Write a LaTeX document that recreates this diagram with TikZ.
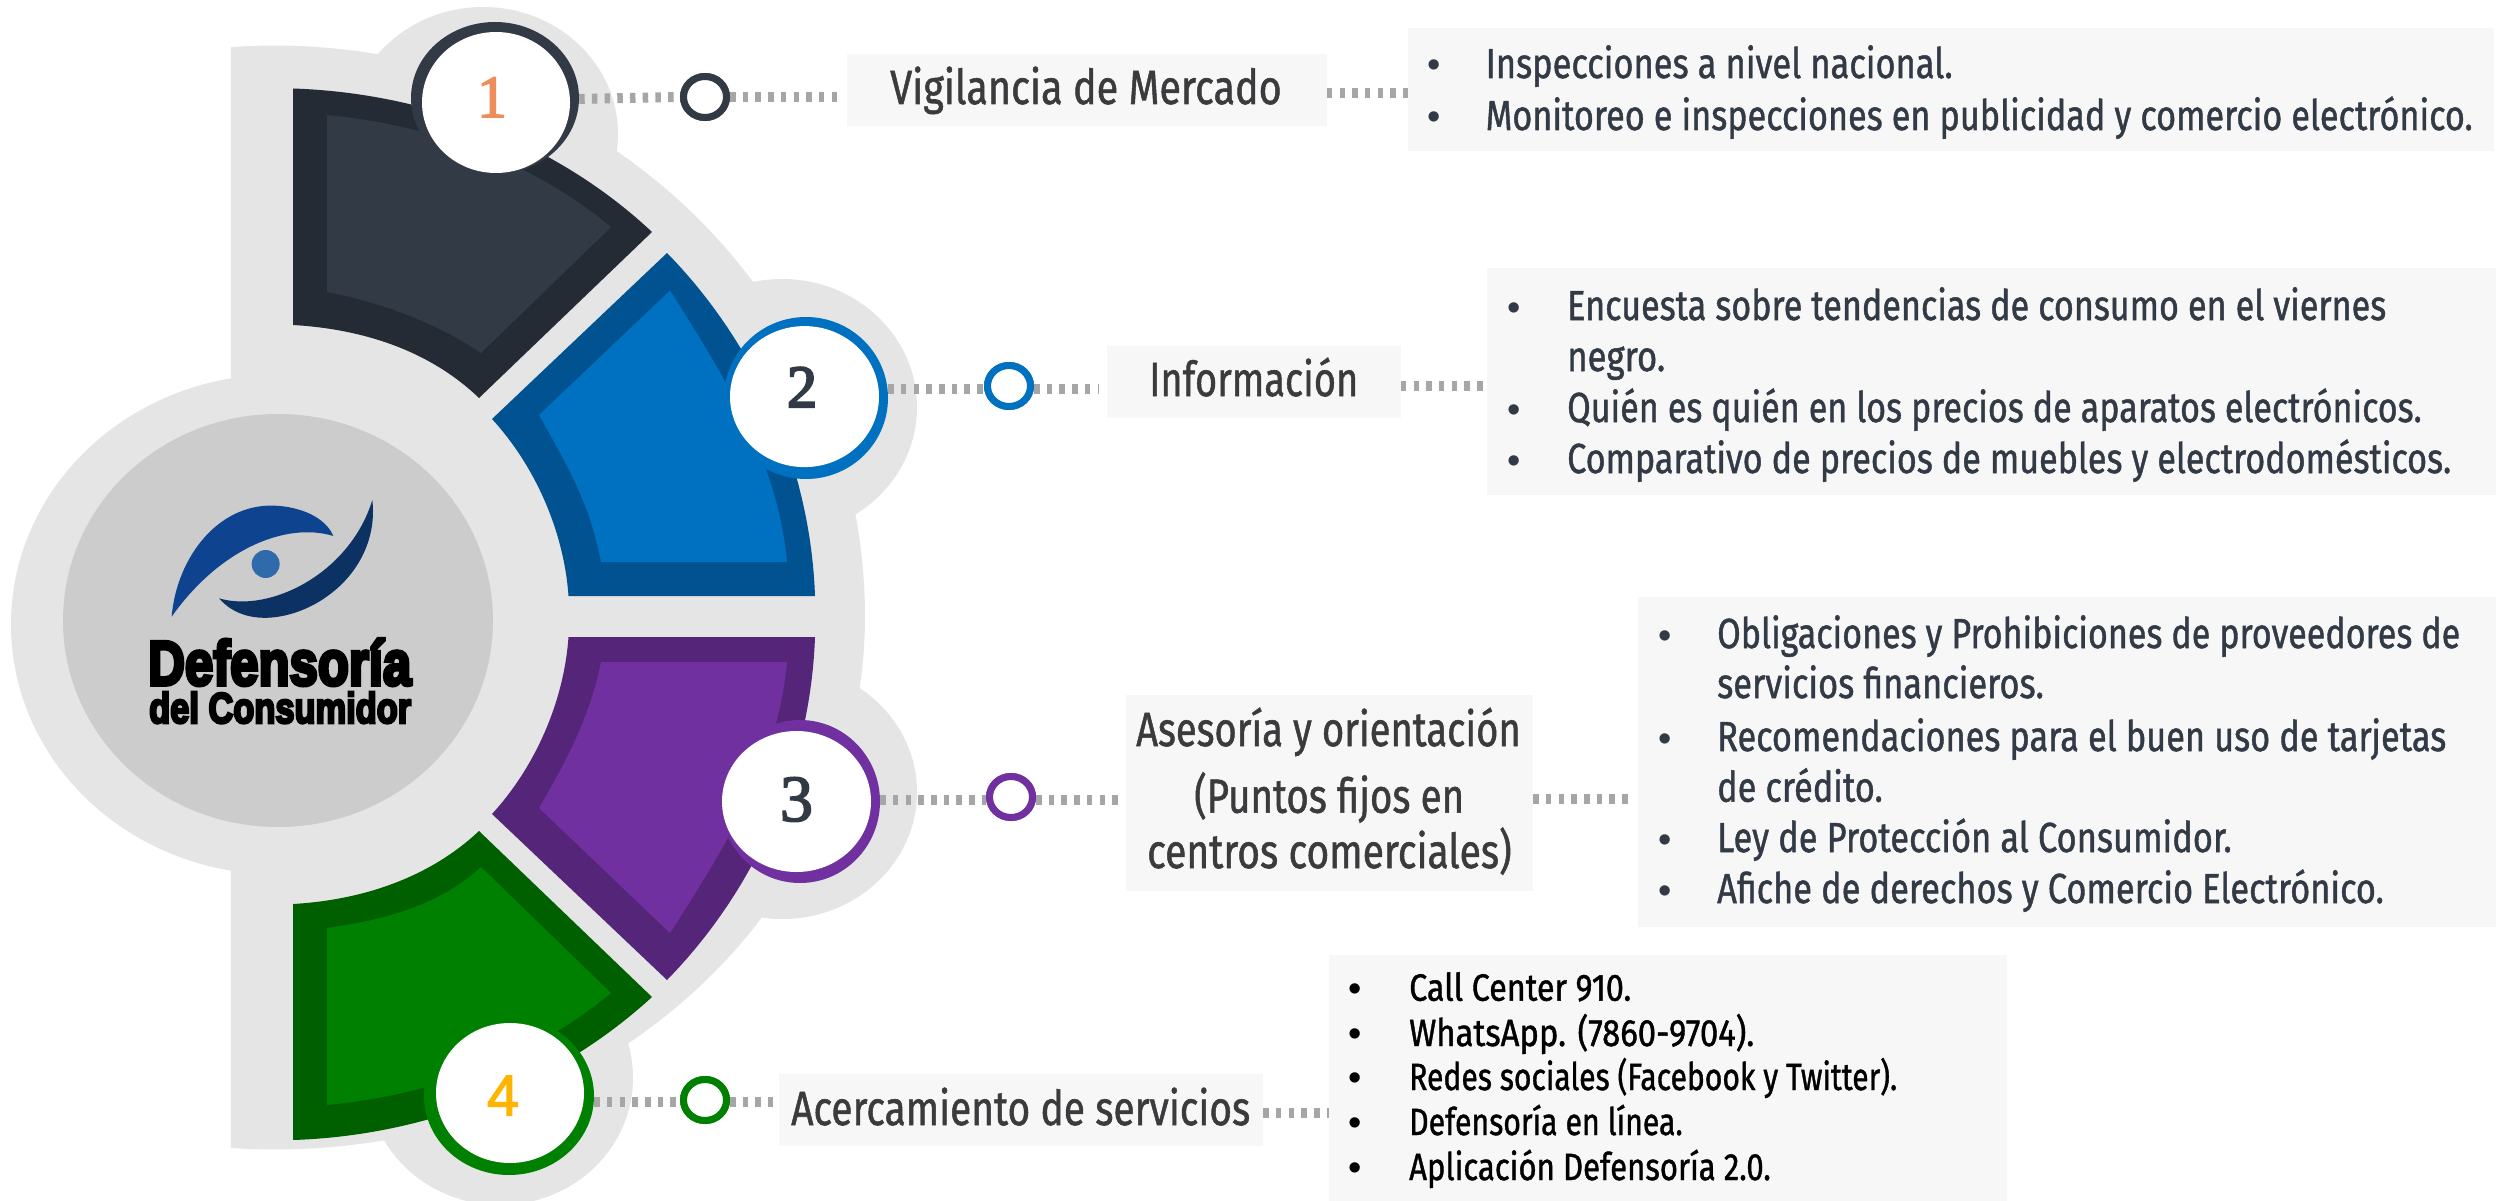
\documentclass[tikz,border=0pt]{standalone}
\usepackage{fontspec}
\usepackage{graphicx}
\usetikzlibrary{shapes.geometric}
\setmainfont{Fira Sans}
\newfontfamily\bodyfont{Fira Sans}[FakeBold=1.2]
\newfontfamily\logofont{Liberation Sans}[BoldFeatures={FakeBold=6}]
\newfontfamily\bulfont{Liberation Sans}
\newfontfamily\fourfont{Liberation Sans}[FakeBold=2]
\newfontfamily\numfont{Liberation Serif}[FakeBold=2.5]
\newfontfamily\numfontb{Liberation Serif}[FakeBold=3.5]
\definecolor{bgg}{HTML}{E5E5E5}
\definecolor{ing}{HTML}{CCCCCC}
\definecolor{boxg}{HTML}{F7F7F7}
\definecolor{dotg}{HTML}{A6A6A6}
\definecolor{inktxt}{HTML}{323A46}
\definecolor{headtxt}{HTML}{3B3B3D}
\definecolor{da}{HTML}{242B35}\definecolor{la}{HTML}{323A46}
\definecolor{db}{HTML}{005390}\definecolor{lb}{HTML}{0070C0}
\definecolor{dc}{HTML}{542578}\definecolor{lc}{HTML}{7030A0}
\definecolor{dd}{HTML}{006000}\definecolor{ld}{HTML}{008000}
\tikzset{
 ringnode/.style={ellipse,inner sep=0pt,text=white},
 whitenode/.style={ellipse,fill=white,inner sep=0pt},
 smallnode/.style={ellipse,fill=white,inner sep=0pt,line width=7pt,minimum width=43pt,minimum height=41pt},
 dotline/.style={draw=dotg,line width=10pt,dash pattern=on 5.5pt off 7.2pt},
 boxnode/.style={rectangle,fill=boxg,inner sep=0pt},
 linetext/.style={anchor=base west,inner sep=0pt,text=inktxt,font=\bodyfont\fontsize{42}{48}\selectfont},
 headtext/.style={anchor=base west,inner sep=0pt,text=headtxt,font=\bodyfont\fontsize{48}{54}\selectfont},
 smalltext/.style={anchor=base west,inner sep=0pt,text=black,font=\bodyfont\fontsize{38}{44}\selectfont},
 bulletnode/.style={anchor=base,inner sep=0pt,text=inktxt,font=\bulfont\fontsize{38}{44}\selectfont},
 numnode/.style={anchor=base,inner sep=0pt},
}
\newcommand\bul[3]{\node[bulletnode] (#1) at (#2,#3) {•};}
\newcommand\tline[6][linetext]{\node[#1] (#2) at (#3,#4) {\resizebox{#5pt}{\height}{#6}};}
\begin{document}
\begin{tikzpicture}[x=1pt,y=-1pt]
\clip (0,0) rectangle (2503,1201);
\fill[white] (0,0) rectangle (2503,1201);
% grey backdrop
\fill[bgg] plot[domain=94.3:0,samples=60] ({275+590*cos(\x)},{616.5-571*sin(\x)})
  -- plot[domain=0:-94.3,samples=60] ({275+590*cos(\x)},{616.5+533*sin(-\x)}) -- cycle;
\fill[bgg] (278,624.5) ellipse [x radius=267pt,y radius=250pt];
\fill[bgg] (483,134) ellipse [x radius=135pt,y radius=127pt];
\fill[bgg] (782,407) ellipse [x radius=135pt,y radius=128pt];
\fill[bgg] (782,792) ellipse [x radius=135pt,y radius=127pt];
\fill[bgg] (500,1078) ellipse [x radius=133pt,y radius=127pt];
\fill[ing] (278,620.5) ellipse [x radius=215pt,y radius=206.5pt];
% sectors
\fill[da] (293,88.5) .. controls (426,93) and (556,142) .. (652,232) -- (479,398) .. controls (429,350) and (362,329) .. (293,325) -- cycle;
\fill[la] (327,115) .. controls (430,125) and (530,160) .. (611,227) -- (481,353) .. controls (440,325) and (385,303) .. (327,292) -- cycle;
\fill[db] (667,253) .. controls (757,345) and (810.5,469) .. (815,596) -- (568.5,596) .. controls (564,532) and (535.6,466.5) .. (492,419) -- cycle;
\fill[lb] (670,290.5) .. controls (730,385) and (778,465) .. (787,562) -- (601,562) .. controls (590,505) and (570,470) .. (539,415) -- cycle;
\fill[dc] (815,637) .. controls (810.5,764) and (757,888) .. (667,980) -- (492,814) .. controls (535.6,766.5) and (564,701) .. (568.5,637) -- cycle;
\fill[lc] (787,662) .. controls (778,760) and (730,840) .. (670,933) -- (539,808) .. controls (570,755) and (590,715) .. (601,662) -- cycle;
\fill[dd] (293,1140) .. controls (426,1135.7) and (556,1085) .. (652,997) -- (479,831) .. controls (429,878) and (362,900) .. (293,904) -- cycle;
\fill[ld] (327,1105) .. controls (430,1095) and (530,1060) .. (611,993) -- (481,867) .. controls (440,905) and (385,920) .. (327,928) -- cycle;
% logo
\begin{scope}[shift={(120pt,-480pt)},x=0.33333pt,y=-0.33333pt]
\fill[fill={rgb,255:red,14;green,67;blue,144}] (155,410) .. controls (170,230) and (300,60) .. (480,78) .. controls (560,86) and (620,120) .. (640,168) .. controls (500,125) and (300,205) .. (155,410) -- cycle;
\fill[fill={rgb,255:red,11;green,50;blue,99}] (757,60) .. controls (770,170) and (720,280) .. (620,350) .. controls (530,415) and (380,450) .. (297,355) .. controls (450,400) and (690,280) .. (757,60) -- cycle;
\fill[fill={rgb,255:red,47;green,107;blue,170}] (437,252) ellipse [x radius=14pt,y radius=14pt];
\end{scope}
\node[anchor=base west,inner sep=0pt,text=black,font=\logofont\bfseries\fontsize{63}{70}\selectfont] (logoa) at (148,685) {\resizebox{263pt}{\height}{Defensoría}};
\node[anchor=base west,inner sep=0pt,text=black,font=\logofont\bfseries\fontsize{43}{50}\selectfont] (logob) at (149,723) {\resizebox{262pt}{\height}{del Consumidor}};
% rings and discs
\node[ringnode,fill=la,minimum width=168pt,minimum height=152pt] (n1) at (495,98) {};
\node[ringnode,fill=lb,minimum width=164pt,minimum height=162pt] (n2) at (806,398) {};
\node[ringnode,fill=lc,minimum width=160pt,minimum height=163pt] (n3) at (800,801.5) {};
\node[ringnode,fill=ld,minimum width=170pt,minimum height=158pt] (n4) at (509,1096) {};
\node[whitenode,minimum width=148pt,minimum height=141pt] (w1) at (496,102.5) {};
\node[whitenode,minimum width=149pt,minimum height=141pt] (w2) at (804.5,396.6) {};
\node[whitenode,minimum width=149pt,minimum height=141pt] (w3) at (796.5,801.5) {};
\node[whitenode,minimum width=148pt,minimum height=140pt] (w4) at (510,1093) {};
\node[numnode,text={rgb,255:red,240;green,140;blue,90},font=\numfont\fontsize{60}{66}\selectfont] (num1) at (492,117) {1};
\node[numnode,text=la,font=\numfontb\fontsize{60}{66}\selectfont] (num2) at (802,407) {2};
\node[numnode,text=la,font=\numfont\fontsize{66}{72}\selectfont] (num3) at (796.5,821) {3};
\node[numnode,text={rgb,255:red,255;green,180;blue,0},font=\fourfont\fontsize{58}{64}\selectfont] (num4) at (503,1115.6) {4};
% small circles
\node[smallnode,draw=la] (c1) at (705,97) {};
\node[smallnode,draw=lb] (c2) at (1009,386) {};
\node[smallnode,draw=lc] (c3) at (1011,797) {};
\node[smallnode,draw=ld] (c4) at (705,1100) {};
% boxes
\node[boxnode,minimum width=479.6pt,minimum height=71.7pt] (l1) at (1086.8,89.85) {};
\node[boxnode,minimum width=1086pt,minimum height=122.7pt] (t1) at (1951,89.35) {};
\node[boxnode,minimum width=293.6pt,minimum height=71.7pt] (l2) at (1253.8,381.85) {};
\node[boxnode,minimum width=1008.6pt,minimum height=227pt] (t2) at (1991.7,381.5) {};
\node[boxnode,minimum width=407pt,minimum height=196pt] (l3) at (1329.5,793) {};
\node[boxnode,minimum width=858pt,minimum height=330pt] (t3) at (2067,761.7) {};
\node[boxnode,minimum width=484pt,minimum height=71.7pt] (l4) at (1021,1109.85) {};
\node[boxnode,minimum width=678pt,minimum height=246pt] (t4) at (1668,1078) {};
% connectors
\draw[dotline] (n1.east) ++(0pt,-1pt) -- (c1.west);
\draw[dotline] (c1.east) -- ([xshift=-8pt]c1.east -| l1.west);
\draw[dotline] ([yshift=-3pt]l1.east) -- ([yshift=-3pt]l1.east -| t1.west);
\draw[dotline] ([yshift=-3pt]c2.west -| n2.east) -- ([yshift=-3pt]c2.west);
\draw[dotline] ([yshift=-3pt]c2.east) -- ([yshift=-3pt,xshift=-8pt]c2.east -| l2.west);
\draw[dotline] ([yshift=-4pt]l2.east) -- ([yshift=-4pt]l2.east -| t2.west);
\draw[dotline] ([yshift=-3pt]c3.west -| n3.east) -- ([yshift=-3pt]c3.west);
\draw[dotline] ([yshift=-3pt]c3.east) -- ([yshift=-3pt,xshift=-8pt]c3.east -| l3.west);
\draw[dotline] ([yshift=-6pt]l3.east) -- ([yshift=-6pt,xshift=-8pt]l3.east -| t3.west);
\draw[dotline] ([yshift=-2pt]c4.west -| n4.east) -- ([yshift=-2pt]c4.west);
\draw[dotline] ([yshift=-2pt]c4.east) -- ([yshift=-2pt,xshift=-6pt]c4.east -| l4.west);
\draw[dotline] ([yshift=-3pt]l4.east) -- ([yshift=-3pt]l4.east -| t4.west);
% redraw the small circles above their connectors
\node[smallnode,draw=la] at (c1) {};
\node[smallnode,draw=lb] at (c2) {};
\node[smallnode,draw=lc] at (c3) {};
\node[smallnode,draw=ld] at (c4) {};
% labels
\tline[headtext]{h1}{890}{104}{391.5}{Vigilancia de Mercado}
\tline[headtext]{h2}{1149}{396}{209}{Información}
\tline[headtext]{h3a}{1136}{746}{384.5}{Asesoría y orientación}
\tline[headtext]{h3b}{1194}{812.7}{270}{(Puntos fijos en}
\tline[headtext]{h3c}{1147}{868}{364.5}{centros comerciales)}
\tline[headtext]{h4}{791}{1125}{459}{Acercamiento de servicios}
% list 1
\bul{b11}{1434}{78}\tline{a11}{1485.5}{78}{467}{Inspecciones a nivel nacional.}
\bul{b12}{1434}{130}\tline{a12}{1485.5}{130}{987}{Monitoreo e inspecciones en publicidad y comercio electrónico.}
% list 2
\bul{b21}{1514}{320}\tline{a21}{1567}{320}{819}{Encuesta sobre tendencias de consumo en el viernes}
\tline{a21b}{1567}{371}{98}{negro.}
\bul{b22}{1514}{422}\tline{a22}{1567}{422}{854.5}{Quién es quién en los precios de aparatos electrónicos.}
\bul{b23}{1514}{473}\tline{a23}{1567}{473}{884}{Comparativo de precios de muebles y electrodomésticos.}
% list 3
\bul{b31}{1665.5}{648}\tline{a31}{1717}{648}{743}{Obligaciones y Prohibiciones de proveedores de}
\tline{a31b}{1717}{698}{326.6}{servicios financieros.}
\bul{b32}{1665.5}{751}\tline{a32}{1717}{751}{729}{Recomendaciones para el buen uso de tarjetas}
\tline{a32b}{1717}{801.7}{165.5}{de crédito.}
\bul{b33}{1665.5}{852}\tline{a33}{1717}{852}{514.5}{Ley de Protección al Consumidor.}
\bul{b34}{1665.5}{903}\tline{a34}{1717}{903}{666.6}{Afiche de derechos y Comercio Electrónico.}
% list 4
\tikzset{bulletnode/.append style={text=black}}
\bul{b41}{1355}{1001}\tline[smalltext]{a41}{1409}{1000.7}{222}{Call Center 910.}
\bul{b42}{1355}{1046}\tline[smalltext]{a42}{1409}{1046}{345}{WhatsApp. (7860-9704).}
\bul{b43}{1355}{1090}\tline[smalltext]{a43}{1409}{1090}{488}{Redes sociales (Facebook y Twitter).}
\bul{b44}{1355}{1135}\tline[smalltext]{a44}{1409}{1135}{273.5}{Defensoría en línea.}
\bul{b45}{1355}{1180}\tline[smalltext]{a45}{1409}{1180}{361.6}{Aplicación Defensoría 2.0.}
\end{tikzpicture}
\end{document}
